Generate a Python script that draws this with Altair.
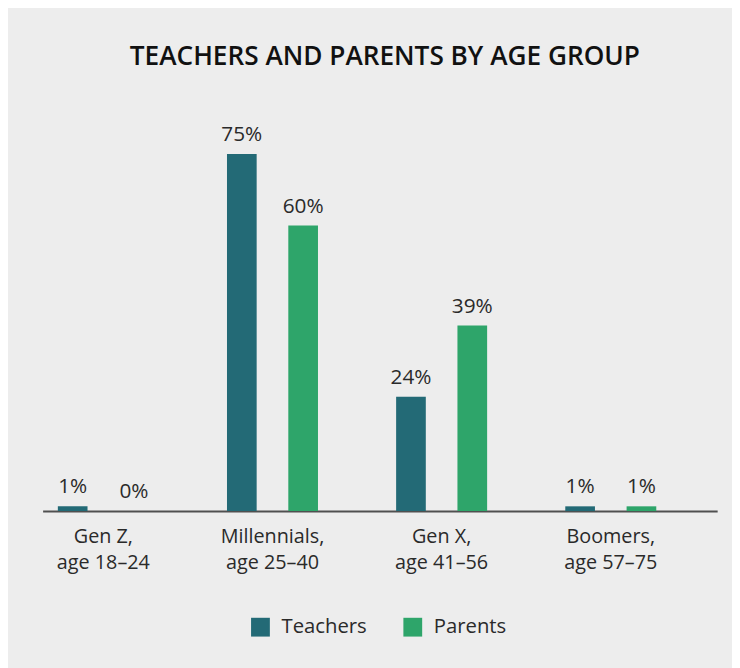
import altair as alt
import pandas as pd

groups = ["Gen Z,\nage 18–24", "Millennials,\nage 25–40", "Gen X,\nage 41–56", "Boomers,\nage 57–75"]
series = ["Teachers", "Parents"]
teachers = [1, 75, 24, 1]
parents = [0, 60, 39, 1]
colors = ["#236a76", "#2ea56a"]

rows = []
for g, t, p in zip(groups, teachers, parents):
    rows.append({"group": g, "series": "Teachers", "value": t})
    rows.append({"group": g, "series": "Parents", "value": p})
df = pd.DataFrame(rows)

FONT = "Open Sans"

x = alt.X("group:N", sort=groups, title=None,
          scale=alt.Scale(paddingInner=0.462, paddingOuter=0.225, align=0.2),
          axis=alt.Axis(labelExpr="split(datum.value, '\\n')", labelAngle=0,
                        labelFontSize=20, labelFont=FONT, labelColor="#2a2a2a",
                        labelLineHeight=26, labelPadding=16, ticks=False,
                        domainColor="#505050", domainWidth=2, grid=False))
xo = alt.XOffset("series:N", sort=series,
                 scale=alt.Scale(paddingInner=0.516, paddingOuter=0))
y = alt.Y("value:Q", scale=alt.Scale(domain=[0, 80]), axis=None)

base = alt.Chart(df).encode(x=x, xOffset=xo, y=y)

bars = base.mark_bar().encode(
    color=alt.Color("series:N", sort=series,
                    scale=alt.Scale(domain=series, range=colors),
                    legend=alt.Legend(title=None, orient="none", direction="horizontal",
                                      legendX=210, legendY=492,
                                      symbolType="square", symbolSize=361,
                                      symbolStrokeWidth=0, symbolOpacity=1,
                                      labelFontSize=20.5, labelFont=FONT, labelColor="#2a2a2a",
                                      labelOffset=11, columnPadding=36))
)

labels = base.mark_text(baseline="bottom", dy=-9, fontSize=21, font=FONT, color="#2a2a2a").encode(
    text=alt.Text("label:N")
).transform_calculate(label="datum.value + '%'")

chart = (bars + labels).properties(
    width=682, height=385,
    autosize=alt.AutoSizeParams(type="none"),
    padding={"left": 35, "top": 120, "right": 15, "bottom": 155},
    background="#ededed",
    title=alt.TitleParams("TEACHERS AND PARENTS BY AGE GROUP", font=FONT, fontSize=26.5,
                          fontWeight=600, color="#111111", anchor="middle", offset=55, dx=5),
).configure_view(stroke=None)

chart.save("out.html", embed_options={"renderer": "svg", "actions": False})
